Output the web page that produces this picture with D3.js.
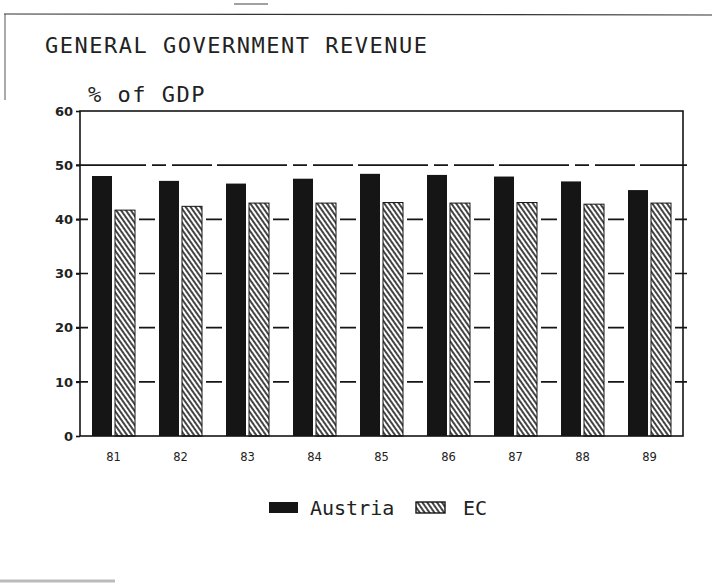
<!DOCTYPE html>
<html>
<head>
<meta charset="utf-8">
<script src="https://cdn.jsdelivr.net/npm/d3@7"></script>
<style>
  body { margin: 0; background: #fff; }
  svg { display: block; }
</style>
</head>
<body>
<script>
// values (% of GDP)
const years = ["81", "82", "83", "84", "85", "86", "87", "88", "89"];
const austria = [48.0, 47.1, 46.6, 47.5, 48.4, 48.2, 47.9, 47.0, 45.4];
const ec = [41.7, 42.4, 43.0, 43.0, 43.1, 43.0, 43.1, 42.8, 43.0];
const yTicks = [0, 10, 20, 30, 40, 50, 60];
const seriesNames = ["Austria", "EC"];

const w = 719, h = 583;
const plotLeft = 80, plotRight = 683, plotTop = 111, plotBottom = 436;
const ink = "#151515";
const mono = "'DejaVu Sans Mono', monospace";

const svg = d3.select("body")
    .append("svg")
    .attr("width", w)
    .attr("height", h);

// diagonal hatch used for the EC bars
svg.append("defs")
    .append("pattern")
    .attr("id", "hatch")
    .attr("patternUnits", "userSpaceOnUse")
    .attr("width", 4)
    .attr("height", 4)
    .attr("patternTransform", "rotate(-35)")
    .call(p => {
        p.append("rect").attr("width", 4).attr("height", 4).attr("fill", "#fff");
        p.append("line")
            .attr("x1", 1).attr("y1", 0).attr("x2", 1).attr("y2", 4)
            .attr("stroke", ink).attr("stroke-width", 1.6);
    });

const xScale = d3.scaleBand()
    .domain(years)
    .range([plotLeft, plotRight]);
const xSub = d3.scaleBand()
    .domain(seriesNames)
    .range([12, xScale.bandwidth() - 12])
    .paddingInner(3 / 23);
const yScale = d3.scaleLinear()
    .domain([0, 60])
    .range([plotBottom, plotTop]);

const rows = years.map((yr, i) => ({ year: yr, values: [
    { name: "Austria", value: austria[i] },
    { name: "EC", value: ec[i] }
] }));

// scan border bits
svg.append("line").attr("x1", 4).attr("x2", 712).attr("y1", 14).attr("y2", 15)
    .attr("stroke", "#333").attr("stroke-width", 1.2);
svg.append("line").attr("x1", 5).attr("x2", 5).attr("y1", 14).attr("y2", 100)
    .attr("stroke", "#555").attr("stroke-width", 1);
svg.append("line").attr("x1", 234).attr("x2", 268).attr("y1", 4).attr("y2", 4)
    .attr("stroke", "#444").attr("stroke-width", 1.2);
svg.append("line").attr("x1", 0).attr("x2", 115).attr("y1", 581).attr("y2", 581)
    .attr("stroke", "#bbb").attr("stroke-width", 3);

// titles
svg.append("text")
    .attr("x", 45).attr("y", 53)
    .attr("font-family", mono).attr("font-size", 22)
    .attr("letter-spacing", 1.5)
    .attr("fill", "#222")
    .text("GENERAL GOVERNMENT REVENUE");
svg.append("text")
    .attr("x", 88).attr("y", 102)
    .attr("font-family", mono).attr("font-size", 22)
    .attr("letter-spacing", 1.5)
    .attr("fill", "#222")
    .text("% of GDP");

// gridlines
svg.selectAll("line.grid")
    .data(yTicks.filter(d => d > 0 && d < 60))
    .enter()
    .append("line")
    .attr("class", "grid")
    .attr("x1", plotLeft - 4)
    .attr("x2", plotRight + 4)
    .attr("y1", d => yScale(d))
    .attr("y2", d => yScale(d))
    .attr("stroke", ink)
    .attr("stroke-width", 1.6)
    .attr("stroke-dasharray", d => d === 50 ? "70,6,14,6,40,5" : null);

const groups = svg.selectAll("g.year")
    .data(rows)
    .enter()
    .append("g")
    .attr("class", "year")
    .attr("transform", d => "translate(" + xScale(d.year) + ",0)");

// white margin round each bar, so the gridlines show only in the gaps
groups.selectAll("rect.knock")
    .data(d => d.values)
    .enter()
    .append("rect")
    .attr("class", "knock")
    .attr("x", d => xSub(d.name) - 4)
    .attr("y", d => yScale(d.value) - 4)
    .attr("width", xSub.bandwidth() + 8)
    .attr("height", d => plotBottom - yScale(d.value) + 4)
    .attr("fill", "#fff");

groups.selectAll("rect.bar")
    .data(d => d.values)
    .enter()
    .append("rect")
    .attr("class", "bar")
    .attr("x", d => xSub(d.name))
    .attr("y", d => yScale(d.value))
    .attr("width", xSub.bandwidth())
    .attr("height", d => plotBottom - yScale(d.value))
    .attr("fill", d => d.name === "Austria" ? ink : "url(#hatch)")
    .attr("stroke", d => d.name === "EC" ? ink : "none")
    .attr("stroke-width", 1);

// plot frame
svg.append("rect")
    .attr("x", plotLeft).attr("y", plotTop)
    .attr("width", plotRight - plotLeft).attr("height", plotBottom - plotTop)
    .attr("fill", "none")
    .attr("stroke", ink)
    .attr("stroke-width", 1.6);

// Y axis
svg.append("g")
    .attr("transform", "translate(" + plotLeft + ",0)")
    .call(d3.axisLeft(yScale).tickValues(yTicks).tickSize(4).tickPadding(3))
    .call(g => g.select(".domain").remove())
    .call(g => g.selectAll("line").attr("stroke", ink).attr("stroke-width", 1.6))
    .call(g => g.selectAll("text")
        .attr("font-family", "'DejaVu Sans', sans-serif")
        .attr("font-size", 13)
        .attr("font-weight", "bold")
        .attr("fill", "#222"));

// X axis
svg.append("g")
    .attr("transform", "translate(0," + plotBottom + ")")
    .call(d3.axisBottom(xScale).tickSize(0).tickPadding(17))
    .call(g => g.select(".domain").remove())
    .call(g => g.selectAll("text")
        .attr("font-family", "'DejaVu Sans', sans-serif")
        .attr("font-size", 11.5)
        .attr("fill", "#222"));

// legend
const legendX = [269, 416];
const legend = svg.selectAll("g.legend")
    .data(seriesNames)
    .enter()
    .append("g")
    .attr("class", "legend")
    .attr("transform", (d, i) => "translate(" + legendX[i] + ",502)");
legend.append("rect")
    .attr("width", 29)
    .attr("height", 11)
    .attr("fill", d => d === "Austria" ? ink : "url(#hatch)")
    .attr("stroke", ink)
    .attr("stroke-width", d => d === "EC" ? 1.4 : 0);
legend.append("text")
    .attr("x", (d, i) => i === 0 ? 41 : 47)
    .attr("y", 13)
    .attr("font-family", mono)
    .attr("font-size", 20)
    .attr("fill", "#222")
    .text(d => d);
</script>
</body>
</html>
